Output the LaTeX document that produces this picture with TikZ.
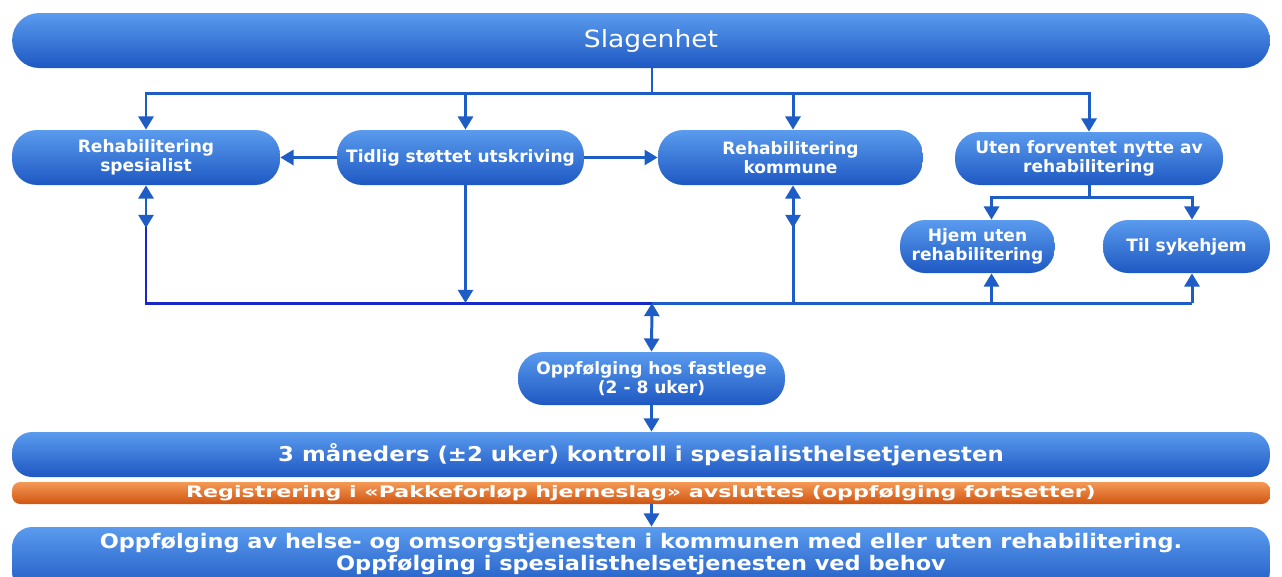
\documentclass[tikz,border=0pt]{standalone}
\usepackage{fontspec}
\setmainfont{DejaVu Sans}
\newfontfamily\widefont{DejaVu Sans}[FakeStretch=1.12]
\newfontfamily\orfont{DejaVu Sans}[FakeStretch=1.4]
\usetikzlibrary{arrows.meta,calc}
\definecolor{bxtop}{HTML}{5A9BEE}
\definecolor{bxmid}{HTML}{2C6CD8}
\definecolor{bxbot}{HTML}{1E58C2}
\definecolor{ortop}{HTML}{F49A55}
\definecolor{ormid}{HTML}{E86A22}
\definecolor{orbot}{HTML}{CF5512}
\definecolor{linec}{HTML}{1F5DC6}
\definecolor{darkc}{HTML}{1628C8}
\tikzset{
  pill/.style={draw=none, top color=bxtop, middle color=bxmid, bottom color=bxbot,
    text=white, align=center, inner sep=0pt},
  midtxt/.style={font=\bfseries\fontsize{9.7}{11}\selectfont},
  conn/.style={draw=linec, line width=1.7pt},
  tip/.style={-{Triangle[width=8.5pt,length=7.5pt]}},
  dtip/.style={{Triangle[width=8.5pt,length=7.5pt]}-{Triangle[width=8.5pt,length=7.5pt]}},
}
\begin{document}
\begin{tikzpicture}[x=0.02cm,y=-0.02cm]
\useasboundingbox (0,0) rectangle (1282,576);
\begin{scope}
\clip (0,0) rectangle (1282,576);
% top
\node[pill, rounded corners=0.54cm, minimum width=25.16cm, minimum height=1.1cm,
  font=\widefont\fontsize{13.5}{15}\selectfont] (slag) at (641,40.5) {\hspace*{0.4cm}Slagenhet};
% row 2
\node[pill, midtxt, rounded corners=0.5cm, minimum width=5.36cm, minimum height=1.1cm] (rs) at (146,157.5) {Rehabilitering\\spesialist};
\node[pill, midtxt, rounded corners=0.5cm, minimum width=4.94cm, minimum height=1.1cm] (tsu) at (460.5,157.5) {Tidlig støttet utskriving};
\node[pill, midtxt, rounded corners=0.5cm, minimum width=5.30cm, minimum height=1.1cm] (rk) at (790.5,157.5) {Rehabilitering\\kommune};
\node[pill, midtxt, rounded corners=0.5cm, minimum width=5.36cm, minimum height=1.06cm] (uten) at (1089,158.5) {Uten forventet nytte av\\rehabilitering};
% row 3
\node[pill, midtxt, rounded corners=0.5cm, minimum width=3.10cm, minimum height=1.06cm] (hjem) at (977.5,246.5) {Hjem uten\\rehabilitering};
\node[pill, midtxt, rounded corners=0.5cm, minimum width=3.34cm, minimum height=1.06cm] (syk) at (1186.5,246.5) {Til sykehjem};
% follow-up
\node[pill, midtxt, rounded corners=0.5cm, minimum width=5.34cm, minimum height=1.06cm] (opp) at (651.5,378.5) {Oppfølging hos fastlege\\(2 - 8 uker)};
% lower bars
\node[pill, rounded corners=0.4cm, minimum width=25.16cm, minimum height=0.9cm,
  font=\widefont\bfseries\fontsize{11.6}{14}\selectfont] (tre) at (641,454.5) {3 måneders (±2 uker) kontroll i spesialisthelsetjenesten};
\node[draw=none, top color=ortop, middle color=ormid, bottom color=orbot, text=white,
  rounded corners=0.16cm, minimum width=25.16cm, minimum height=0.44cm, inner sep=0pt,
  font=\orfont\bfseries\fontsize{9}{10}\selectfont] (reg) at (641,493) {Registrering i «Pakkeforløp hjerneslag» avsluttes (oppfølging fortsetter)};
\node[pill, rounded corners=0.4cm, minimum width=25.16cm, minimum height=1.3cm,
  font=\widefont\bfseries\fontsize{11.4}{12.3}\selectfont] (oppf) at (641,559.5) {\raisebox{-0.01cm}[0pt][0pt]{\begin{tabular}{@{}c@{}}Oppfølging av helse- og omsorgstjenesten i kommunen med eller uten rehabilitering.\\Oppfølging i spesialisthelsetjenesten ved behov\end{tabular}}};
\end{scope}
% coordinates
\coordinate (b1) at (652,93);
\coordinate (b2) at (652,303);
\coordinate (u1) at (1089,197);
% top distribution
\draw[conn] (slag.south -| b1) -- (b1);
\draw[conn, tip] (b1) -| (rs.north);
\draw[conn, tip] (b1) -| ([xshift=0.1cm]tsu.north);
\draw[conn, tip] (b1) -| ([xshift=0.05cm]rk.north);
\draw[conn, tip] (b1) -| (uten.north);
% side arrows
\draw[conn, tip] (tsu.west) -- (rs.east);
\draw[conn, tip] (tsu.east) -- (rk.west);
% uten split
\draw[conn] (uten.south) -- (u1);
\draw[conn, tip] (u1) -| ([xshift=0.28cm]hjem.north);
\draw[conn, tip] (u1) -| ([xshift=0.11cm]syk.north);
% bottom bus
\draw[draw=darkc, line width=1.7pt] (rs.south |- 0,225) -- (rs.south |- b2) -- (b2);
\draw[conn] (b2) -- ([xshift=0.11cm]syk.south |- b2);
\draw[conn, dtip] (rs.south) -- (rs.south |- 0,228);
\draw[conn, tip] ([xshift=0.1cm]tsu.south) -- ([xshift=0.1cm]tsu.south |- b2);
\draw[conn, dtip] ([xshift=0.05cm]rk.south) -- ([xshift=0.05cm]rk.south |- 0,228);
\draw[conn] ([xshift=0.05cm]rk.south |- 0,225) -- ([xshift=0.05cm]rk.south |- b2);
\draw[conn, tip] ([xshift=0.28cm]hjem.south |- b2) -- ([xshift=0.28cm]hjem.south);
\draw[conn, tip] ([xshift=0.11cm]syk.south |- b2) -- ([xshift=0.11cm]syk.south);
\draw[conn, dtip] (b2) -- (opp.north);
% lower arrows
\draw[conn, tip] (opp.south) -- (tre.north -| opp.south);
\draw[conn, tip] (reg.south -| opp.south) -- (oppf.north -| opp.south);
\end{tikzpicture}
\end{document}
